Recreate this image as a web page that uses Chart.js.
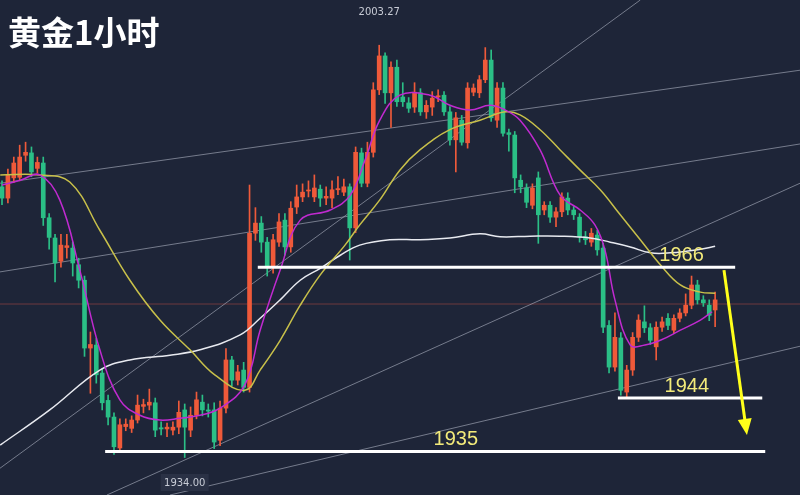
<!DOCTYPE html>
<html>
<head>
<meta charset="utf-8">
<script src="https://cdn.jsdelivr.net/npm/chart.js@4/dist/chart.umd.min.js"></script>
<style>
    html, body { margin: 0; padding: 0; background: #1e2538; }
    #wrap { width: 800px; height: 495px; position: relative; }
</style>
</head>
<body>
<div id="wrap"><canvas id="c"></canvas></div>
<script>
// Candles (1 hour gold), index = bar number
const opens = [1979.5,1977.6,1981.0,1981.1,1984.8,1985.2,1982.6,1983.5,1974.3,1970.9,
    1967.0,1969.3,1969.2,1966.4,1963.8,1952.4,1952.9,1948.2,1943.6,1940.8,
    1935.6,1939.2,1938.9,1940.3,1942.6,1942.8,1943.2,1939.0,1938.8,1938.6,
    1939.1,1942.0,1938.6,1941.1,1943.3,1942.0,1942.0,1936.9,1942.3,1950.4,
    1947.0,1948.7,1945.8,1971.7,1973.4,1970.2,1966.0,1970.2,1973.9,1969.4,
    1976.1,1977.8,1978.8,1977.8,1979.1,1977.6,1977.6,1979.0,1978.6,1979.5,
    1972.6,1985.2,1980.1,1985.3,1995.8,2001.5,1995.3,1999.6,1994.6,1993.6,
    1992.9,1995.3,1992.1,1992.9,1994.6,1994.9,1992.1,1987.4,1990.7,1986.9,
    1995.4,1995.3,1997.5,2000.8,1990.7,1996.1,1988.6,1988.2,1980.6,1979.3,
    1976.4,1981.0,1975.6,1976.4,1974.4,1975.3,1977.6,1975.6,1974.4,1971.1,
    1970.2,1971.4,1969.2,1956.2,1949.2,1954.1,1945.0,1948.7,1954.2,1956.8,
    1955.8,1952.6,1955.9,1957.4,1955.4,1957.4,1958.3,1959.6,1963.0,1960.5,
    1959.6,1958.8];
const closes = [1977.6,1981.5,1983.5,1984.5,1985.3,1982.0,1983.6,1974.3,1971.0,1966.7,
    1969.7,1969.6,1966.7,1963.8,1952.4,1953.0,1947.9,1943.2,1940.8,1935.8,
    1939.5,1939.6,1940.3,1942.8,1942.9,1943.3,1938.6,1938.8,1939.1,1939.1,
    1941.6,1939.1,1941.1,1943.7,1942.0,1941.8,1936.6,1942.3,1950.4,1947.0,
    1948.4,1945.8,1971.7,1973.4,1970.2,1966.0,1970.6,1973.6,1969.4,1975.9,
    1977.8,1978.6,1978.9,1979.3,1977.6,1977.9,1979.0,1979.2,1979.5,1972.6,
    1985.3,1980.1,1985.3,1995.8,2001.5,1995.3,1999.6,1993.8,1993.8,1992.7,
    1995.4,1992.1,1993.2,1994.4,1994.8,1992.1,1987.4,1991.1,1987.0,1996.1,
    1996.1,1997.5,2000.8,1991.1,1996.1,1988.5,1988.3,1981.0,1979.5,1976.9,
    1979.3,1974.8,1976.4,1974.4,1975.3,1977.8,1975.6,1974.8,1971.1,1970.6,
    1971.7,1968.9,1955.9,1949.2,1954.2,1945.3,1948.7,1954.2,1957.1,1955.8,
    1953.7,1955.9,1956.8,1956.2,1957.4,1958.3,1959.6,1963.0,1960.5,1960.0,
    1957.9,1960.5];
const highs = [1980.5,1982.5,1984.5,1986.5,1987.0,1986.2,1984.5,1984.5,1975.0,1971.5,
    1971.5,1971.5,1970.2,1967.5,1964.5,1955.1,1954.0,1949.0,1944.5,1941.5,
    1940.5,1940.5,1941.0,1944.5,1943.8,1945.5,1944.0,1940.0,1939.8,1940.0,
    1943.5,1943.0,1942.5,1945.0,1944.5,1943.0,1943.2,1943.5,1952.3,1951.0,
    1949.5,1950.0,1979.8,1976.0,1974.5,1971.0,1971.5,1975.0,1975.0,1977.0,
    1979.8,1980.0,1980.5,1981.5,1979.8,1979.5,1980.5,1981.2,1980.8,1980.0,
    1986.2,1986.0,1987.0,1997.0,2003.3,2002.0,2000.5,2000.8,1997.0,1994.5,
    1997.0,1996.0,1994.0,1995.5,1995.8,1995.5,1993.0,1992.0,1991.5,1997.0,
    1996.8,1998.2,2002.9,2002.5,1997.0,1997.0,1989.2,1988.8,1981.5,1980.0,
    1980.0,1982.0,1977.0,1977.0,1976.0,1978.5,1978.5,1976.2,1975.0,1972.0,
    1972.5,1972.2,1970.0,1957.0,1958.3,1955.0,1949.5,1955.0,1958.0,1959.5,
    1956.5,1956.8,1957.6,1958.2,1958.0,1959.0,1961.5,1964.5,1963.8,1961.2,
    1960.5,1961.8];
const lows = [1976.5,1976.8,1980.2,1980.5,1983.8,1981.2,1981.8,1973.0,1969.0,1963.5,
    1966.0,1967.5,1964.5,1962.5,1951.0,1944.8,1946.5,1942.0,1939.5,1934.5,
    1934.8,1938.5,1938.2,1939.8,1941.5,1942.0,1937.5,1937.8,1937.5,1937.8,
    1938.0,1934.0,1937.5,1940.5,1941.0,1940.8,1935.5,1936.0,1941.5,1946.0,
    1946.2,1945.0,1945.0,1970.5,1968.5,1964.5,1965.0,1969.5,1968.0,1968.5,
    1975.0,1977.0,1977.8,1977.0,1976.2,1976.5,1976.0,1978.2,1978.0,1967.2,
    1971.8,1979.5,1979.5,1984.5,1995.0,1993.5,1989.5,1993.0,1993.0,1992.0,
    1992.0,1991.5,1991.0,1991.5,1993.8,1991.5,1986.5,1982.0,1986.5,1986.0,
    1994.8,1994.5,1997.0,1990.5,1989.5,1988.0,1985.5,1978.5,1978.5,1976.0,
    1975.8,1970.0,1974.8,1973.5,1972.8,1974.5,1974.8,1974.0,1970.2,1969.8,
    1969.5,1968.0,1955.0,1948.2,1948.5,1944.5,1944.2,1947.8,1953.5,1955.0,
    1953.0,1950.4,1955.2,1955.5,1954.8,1956.8,1957.8,1959.0,1959.8,1959.4,
    1957.0,1956.0];

// Moving averages, read at sample bars
const maFastIdx = [0,3.1,6.4,9.8,13.2,16.6,20,23.4,26.8,30.2,33.6,37,41.2,43.8,47.2,50.6,55.7,59.1,61.6,64.1,67.5,72.6,76,79.4,82.8,85.4,87.9,91.3,94.7,98.1,100.6,102.3,104,106.6,109.1,111.7,115.1,118.5,120.5];
const maFast = [1979.8,1980.6,1981.5,1977.3,1965.5,1952.1,1943.7,1941.1,1940.3,1940.6,1941.1,1942.3,1946.2,1955.4,1965.5,1973.9,1975.6,1978.1,1984.0,1990.7,1994.9,1994.9,1993.2,1992.4,1993.2,1992.4,1990.7,1985.7,1978.1,1975.6,1973.1,1968.9,1960.5,1952.9,1952.9,1953.7,1955.4,1957.1,1958.5];
const maMidIdx = [-0.3,6.4,11.5,16.6,21.7,26.8,31.9,36.1,41.2,43.8,47.2,50.6,54,58.2,60.7,64.1,67.5,70.9,76,81.1,85.4,87.9,91.3,94.7,98.1,101.5,104.9,108.3,111.7,115.1,118.5,121];
const maMid = [1981.5,1981.5,1980.3,1972.2,1963.8,1957.1,1952.1,1947.9,1945.3,1948.7,1953.7,1959.6,1964.7,1969.7,1973.1,1977.3,1982.3,1985.7,1989.1,1990.7,1992.1,1991.6,1989.1,1985.7,1982.3,1979.0,1974.8,1970.6,1966.4,1963.0,1961.8,1961.6];
const maSlowIdx = [-0.3,8.1,16.6,21.7,28.5,33.6,40.4,43.8,47.2,50.6,54,57.4,60.7,65.8,70.9,76,81.1,84.5,89.6,94.7,99.8,103.2,106.6,110,113.4,118.5,121];
const maSlow = [1936.1,1942.0,1948.7,1950.4,1951.2,1952.1,1954.6,1957.4,1960.5,1963.8,1965.8,1968.0,1969.7,1970.6,1970.6,1970.9,1971.6,1971.1,1971.2,1971.2,1970.9,1970.2,1969.4,1968.4,1968.4,1969.0,1969.5];

// Trend lines: [idx1, price1, idx2, price2]
const trendLines = [
    [-0.34, 1980.1, 135.4, 1999.1],
    [-0.34, 1965.2, 135.4, 1986.7],
    [-0.34, 1932.2, 108.3, 2010.9],
    [28.5, 1927.7, 135.4, 1952.7],
    [17.8, 1927.7, 135.4, 1980.1]
];
// Levels: [price, fromIdx, toIdx, label, labelIdx]
const levels = [
    [1966, 43.4, 124.4, '1966', 115.3],
    [1944, 104.5, 129.0, '1944', 116.2],
    [1935, 17.5, 129.5, '1935', 77.0]
];
const lastPrice = 1959.8;
const arrowPts = [122.5, 1965.5, 126.4, 1937.8];

const UP = '#ef5a3a', DOWN = '#2bbf86';
const candleColors = opens.map((o, i) => closes[i] >= o ? UP : DOWN);

const datasets = [];
// trend lines
trendLines.forEach(t => datasets.push({
    type: 'line', data: [{x: t[0], y: t[1]}, {x: t[2], y: t[3]}],
    borderColor: 'rgba(190,195,210,0.55)', borderWidth: 1, pointRadius: 0, order: 5
}));
datasets.push({
    type: 'line', data: [{x: -1, y: lastPrice}, {x: 140, y: lastPrice}],
    borderColor: 'rgba(200,80,70,0.6)', borderWidth: 0.8, pointRadius: 0, order: 5
});
// wicks and bodies
datasets.push({
    type: 'bar', data: opens.map((o, i) => ({x: i, y: [lows[i], highs[i]]})),
    backgroundColor: candleColors, barThickness: 1, grouped: false, order: 3
});
datasets.push({
    type: 'bar', data: opens.map((o, i) => ({x: i, y: [o, closes[i]]})),
    backgroundColor: candleColors, barThickness: 4, minBarLength: 1, grouped: false, order: 3
});
// moving averages
function maSet(idx, vals, color) {
    return {
        type: 'line', data: idx.map((x, i) => ({x: x, y: vals[i]})),
        borderColor: color, borderWidth: 1.5, pointRadius: 0, tension: 0.4, order: 2
    };
}
datasets.push(maSet(maFastIdx, maFast, '#c02ad0'));
datasets.push(maSet(maMidIdx, maMid, '#c8c04a'));
datasets.push(maSet(maSlowIdx, maSlow, '#e8eaf0'));
// levels
levels.forEach(l => datasets.push({
    type: 'line', data: [{x: l[1], y: l[0]}, {x: l[2], y: l[0]}],
    borderColor: '#ffffff', borderWidth: 3, pointRadius: 0, order: 1
}));

// Text, arrow and price tags
const overlay = {
    id: 'overlay',
    afterDatasetsDraw(chart) {
        const ctx = chart.ctx, xs = chart.scales.x, ys = chart.scales.y;
        ctx.save();
        // level labels
        ctx.fillStyle = '#f2ea7a';
        ctx.font = '20px "Liberation Sans", sans-serif';
        ctx.textAlign = 'center';
        ctx.textBaseline = 'bottom';
        levels.forEach(l => ctx.fillText(l[3], xs.getPixelForValue(l[4]), ys.getPixelForValue(l[0]) - 2));
        // arrow
        const x1 = xs.getPixelForValue(arrowPts[0]), y1 = ys.getPixelForValue(arrowPts[1]);
        const x2 = xs.getPixelForValue(arrowPts[2]), y2 = ys.getPixelForValue(arrowPts[3]);
        const ang = Math.atan2(y2 - y1, x2 - x1);
        ctx.strokeStyle = '#ffff1a'; ctx.fillStyle = '#ffff1a'; ctx.lineWidth = 3;
        ctx.beginPath(); ctx.moveTo(x1, y1);
        ctx.lineTo(x2 - 12 * Math.cos(ang), y2 - 12 * Math.sin(ang)); ctx.stroke();
        ctx.beginPath(); ctx.moveTo(x2, y2);
        ctx.lineTo(x2 - 16 * Math.cos(ang) + 7 * Math.sin(ang), y2 - 16 * Math.sin(ang) - 7 * Math.cos(ang));
        ctx.lineTo(x2 - 16 * Math.cos(ang) - 7 * Math.sin(ang), y2 - 16 * Math.sin(ang) + 7 * Math.cos(ang));
        ctx.closePath(); ctx.fill();
        // high / low tags
        ctx.font = '10px "DejaVu Sans", sans-serif';
        ctx.textBaseline = 'middle';
        const hx = xs.getPixelForValue(64), lx = xs.getPixelForValue(31);
        ctx.fillStyle = '#2a3145'; ctx.fillRect(lx - 24, 474, 48, 17);
        ctx.fillStyle = '#c8ccd6';
        ctx.fillText('2003.27', hx, 12);
        ctx.fillText('1934.00', lx, 483);
        // title
        ctx.fillStyle = '#ffffff';
        ctx.textAlign = 'left';
        ctx.textBaseline = 'alphabetic';
        ctx.font = 'bold 33px "Noto Sans CJK SC", sans-serif';
        ctx.fillText('黄金1小时', 8, 45);
        ctx.restore();
    }
};

new Chart(document.getElementById('c'), {
    type: 'bar',
    data: { datasets: datasets },
    options: {
        responsive: true,
        maintainAspectRatio: false,
        animation: false,
        layout: { padding: 0 },
        plugins: { legend: { display: false }, tooltip: { enabled: false } },
        scales: {
            x: { type: 'linear', min: -0.34, max: 135.4, display: false, offset: false },
            y: { min: 1927.7, max: 2010.9, display: false }
        }
    },
    plugins: [overlay]
});
</script>
</body>
</html>
